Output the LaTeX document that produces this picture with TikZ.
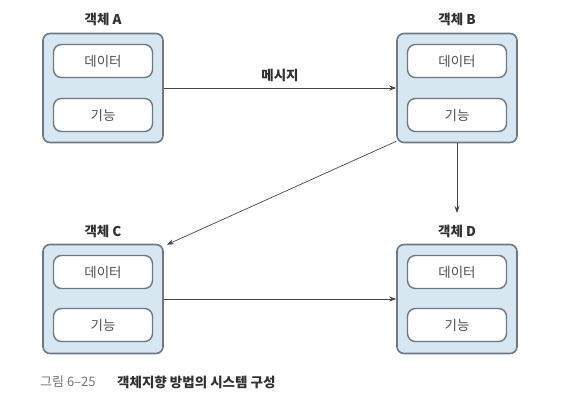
\documentclass[tikz,border=0pt]{standalone}
\usepackage{fontspec}
\newfontfamily\kr{Noto Sans CJK KR}
\usetikzlibrary{arrows.meta}
\definecolor{boxfill}{HTML}{D6E7F2}
\definecolor{boxline}{HTML}{6F7880}
\definecolor{txt}{HTML}{505050}
\definecolor{ttl}{HTML}{303030}
\definecolor{arr}{HTML}{444444}
\tikzset{
  outerbox/.style={draw=boxline, line width=1.6pt, fill=boxfill, rounded corners=7pt, minimum width=120pt, minimum height=109pt, inner sep=0pt},
  innerbox/.style={draw=boxline, line width=1.4pt, fill=white, rounded corners=8pt, minimum width=99pt, minimum height=33pt, inner sep=0pt, font=\kr\fontsize{13.5}{15}\selectfont, text=txt},
  objtitle/.style={font=\kr\bfseries\fontsize{13.5}{15}\selectfont, text=ttl},
  conn/.style={draw=arr, line width=0.7pt, -{Stealth[length=7pt,width=5pt]}},
}
\begin{document}
\begin{tikzpicture}[x=1pt,y=-1pt]
\useasboundingbox (0,0) rectangle (562,407);
% Object A
\node[outerbox] (A) at (103,88) {};
\node[innerbox] (Ad) at (103,61) {데이터};
\node[innerbox] (Af) at (103,115) {기능};
\node[objtitle] (At) at (103,19) {객체 A};
% Object B
\node[outerbox] (B) at (457,88) {};
\node[innerbox] (Bd) at (457,61) {데이터};
\node[innerbox] (Bf) at (457,115) {기능};
\node[objtitle] (Bt) at (457,19) {객체 B};
% Object C
\node[outerbox] (C) at (103,299) {};
\node[innerbox] (Cd) at (103,272) {데이터};
\node[innerbox] (Cf) at (103,325) {기능};
\node[objtitle] (Ct) at (103,231) {객체 C};
% Object D
\node[outerbox] (D) at (457,299) {};
\node[innerbox] (Dd) at (457,272) {데이터};
\node[innerbox] (Df) at (457,325) {기능};
\node[objtitle] (Dt) at (457,231) {객체 D};
% connectors
\draw[conn] (A.east) -- node[above=3pt, objtitle] (msg) {메시지} (B.west);
\draw[conn] ([yshift=2pt]B.south west) -- ([xshift=3pt,yshift=-1pt]C.north east);
\coordinate (dtip) at (457,213);
\draw[conn] (B.south) -- (dtip);
\draw[conn] (C.east) -- (D.west);
% caption
\node[anchor=west, inner sep=0pt, font=\kr\fontsize{13}{15}\selectfont, text=txt!80] (cap1) at (40,382) {그림 6–25};
\node[anchor=west, inner sep=0pt, font=\kr\bfseries\fontsize{13.5}{15}\selectfont, text=ttl] (cap2) at (117,382) {객체지향 방법의 시스템 구성};
\end{tikzpicture}
\end{document}
